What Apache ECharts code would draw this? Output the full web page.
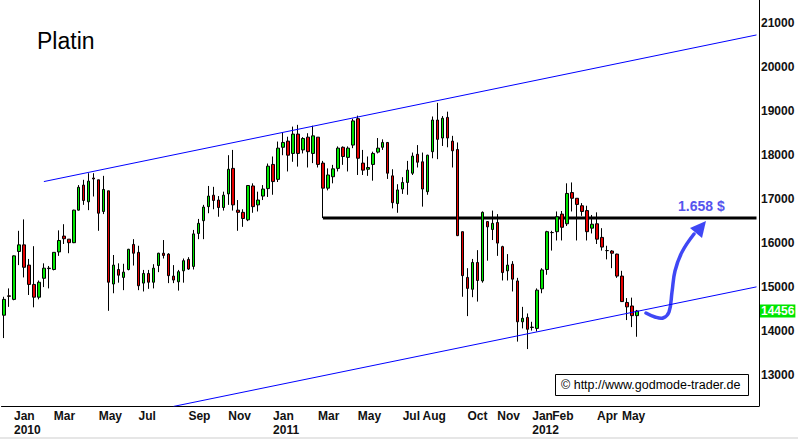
<!DOCTYPE html>
<html><head><meta charset="utf-8">
<script src="https://cdn.jsdelivr.net/npm/echarts@6/dist/echarts.min.js"></script>
<style>html,body{margin:0;padding:0;background:#fff}#c{width:798px;height:439px}</style>
</head><body><div id="c"></div>
<script>
// Weekly candles, Platinum
const opens=[14360,14800,14720,15810,15960,15500,15060,14770,15200,15420,15400,15800,16160,16090,16010,16750,17320,16940,17480,17440,16720,17190,15070,15400,15220,15400,15970,15790,15090,15310,15110,15490,15770,15750,15250,15120,15370,15630,15470,16220,16510,16830,17090,16980,16810,17120,17700,16750,16700,16530,17300,16870,17070,17240,17790,17450,18180,18320,18040,18480,18120,18410,18040,18410,17820,17250,17510,17700,18180,17950,18230,18830,17820,17680,17790,18070,18180,18290,17530,16900,17230,17380,17590,18020,17850,17170,18080,18800,18390,18860,18320,18130,16260,15220,14950,15560,15140,16490,16310,16470,15920,15370,15520,15140,14210,14310,14090,14060,14960,15400,16240,16260,16660,16440,17150,17020,16850,16740,16340,16440,16130,15830,15820,15750,15250,14650,14570,14350];
const highs=[14780,14970,15720,16280,16540,15640,15930,15150,15540,15480,15790,16290,16430,16090,16760,17320,17440,17590,17590,17440,17530,17190,15730,15540,15530,15870,16090,15940,15390,15390,15520,15780,16070,15770,15500,15390,15650,15680,16300,16550,16870,17300,17280,17070,17170,18000,18120,16980,16770,17320,17360,17170,17320,17810,17970,18310,18520,18420,18650,18690,18410,18500,18670,18410,17870,17700,17780,18200,18200,18200,18830,18900,18120,17970,18080,18390,18360,18300,17680,17340,17500,17870,18060,18230,18060,18010,18880,19190,18890,18990,18440,18290,16260,15430,15640,15840,16720,16490,16740,16660,15940,15750,15590,15210,14550,14400,14210,14970,15430,16280,16280,16720,16730,17360,17380,17020,16910,16850,16640,16700,16340,15940,15840,15760,15370,14750,14760,14480];
const lows=[13840,14550,14700,15500,15220,14820,14540,14720,15000,14970,15380,15710,15980,15770,16000,16740,16870,16750,17060,16280,16660,14460,14860,15100,14930,15380,15490,14930,14900,14960,14970,15340,15650,15090,15090,14920,15100,15390,15400,16090,16090,16680,16770,16600,16740,16870,16740,16280,16370,16500,16690,16720,16980,17050,17100,17390,18000,17630,17850,17740,18040,17720,17820,17720,16570,17200,17360,17630,17780,17630,18160,17550,17550,17530,17420,18040,18120,17460,16790,16690,17120,17100,17550,17720,16830,17100,17930,17910,18210,18180,17720,16160,14780,14340,14770,14670,15100,15600,16070,15710,15150,15150,14900,13760,14060,13590,14010,13990,14860,15280,15830,16060,16060,16390,16720,16060,16620,16060,16220,15980,15830,15630,15430,15210,14660,14250,14090,13870];
const closes=[14720,14790,15710,15960,15450,15060,14770,15110,15430,15430,15790,16060,16100,16010,16750,17270,16970,17410,17460,16680,17220,15110,15500,15270,15340,15860,15770,15030,15310,15110,15430,15770,15720,15260,15160,15350,15600,15410,16210,16450,16820,17070,16970,16810,17090,17680,16870,16700,16560,17310,16830,16980,17230,17750,17400,18160,18290,18000,18480,18040,18380,18080,18440,17790,17250,17550,17690,18160,17970,18160,18780,17930,17660,17720,18040,18160,18290,17590,16920,17210,17380,17660,17980,17840,17230,18000,18800,18360,18840,18390,18100,16170,15260,14970,15560,15150,16700,16370,16450,16000,15330,15500,15180,14210,14290,14040,14080,14930,15390,16260,16240,16600,16360,17130,17020,16880,16720,16260,16430,16090,15910,15830,15770,15250,14670,14550,14350,14456];

// trend channel (category index, price) and resistance level
const upperTrend=[[8,17400],[151.4,20735]];
const lowerTrend=[[34,12285],[151.4,15005]];
const resistance=[[64,16570],[151.4,16570]];
const lastPrice=14456;
const targetText='1.658 $';

// axis ticks
const yTicks=[13000,14000,15000,16000,17000,18000,19000,20000,21000];
const xTickIndex=[2,10,19,27,37,45,54,63,71,80,84,93,99,106,110,119,124];
const xTickText=['Jan\n2010','Mar','May','Jul','Sep','Nov','Jan\n2011','Mar','May','Jul','Aug','Oct','Nov','Jan\n2012','Feb','Apr','May'];

const SLOTS=152;
const categories=[];
{const d0=new Date(Date.UTC(2009,11,18));for(let i=0;i<SLOTS;i++){const d=new Date(d0.getTime()+i*7*864e5);categories.push(d.toISOString().slice(0,10));}}
const candles=opens.map((o,i)=>[o,closes[i],lows[i],highs[i]]);

const FONT='"Liberation Sans", Arial, sans-serif';
const chart=echarts.init(document.getElementById('c'),null,{renderer:'svg'});
chart.setOption({
  animation:false,
  backgroundColor:'#fff',
  title:{text:'Platin',left:37,top:29,padding:0,textStyle:{fontFamily:FONT,fontSize:23,fontWeight:'normal',color:'#000'}},
  grid:{left:1.5,right:39,top:0,bottom:33,containLabel:false},
  xAxis:{type:'category',data:categories,boundaryGap:true,
    axisLine:{show:true,lineStyle:{color:'#000',width:1}},axisTick:{show:false},splitLine:{show:false},
    axisLabel:{interval:(i)=>xTickIndex.includes(i),formatter:(v,i)=>{const k=xTickIndex.indexOf(i);return k<0?'':xTickText[k];},
      align:'left',margin:3,lineHeight:14,fontFamily:FONT,fontSize:12,fontWeight:'bold',color:'#111'}},
  yAxis:{type:'value',position:'right',min:12295,max:21530,scale:true,
    axisLine:{show:true,lineStyle:{color:'#000',width:1}},axisTick:{show:false},splitLine:{show:false},
    axisLabel:{customValues:yTicks,formatter:(v)=>String(v),margin:2,fontFamily:FONT,fontSize:12,fontWeight:'bold',color:'#111'}},
  series:[
    {type:'candlestick',data:candles,barWidth:3,
      itemStyle:{color:'#00e600',color0:'#e60000',borderColor:'#000',borderColor0:'#000',borderColorDoji:'#000',borderWidth:1},
      markLine:{silent:true,symbol:'none',data:[{yAxis:lastPrice}],lineStyle:{color:'rgba(0,0,0,0)',width:0},
        label:{show:true,position:'end',distance:1,formatter:String(lastPrice),backgroundColor:'#00e600',color:'#fff',
          fontFamily:FONT,fontSize:12,fontWeight:'bold',padding:[1,1,0,1],lineHeight:12}}},
    {type:'line',data:upperTrend,symbol:'none',lineStyle:{color:'#0000ff',width:1},clip:true,z:3},
    {type:'line',data:lowerTrend,symbol:'none',lineStyle:{color:'#0000ff',width:1},clip:true,z:3},
    {type:'line',data:resistance,symbol:'none',lineStyle:{color:'#000',width:3},clip:true,z:1}
  ],
  graphic:[
    {type:'text',left:678,top:199,style:{text:targetText,fontFamily:FONT,fontSize:14,fontWeight:'bold',fill:'#5555ee'}},
    {type:'polyline',shape:{points:[[646,313],[655,317],[663,318],[669,312],[672,292],[675,271],[682,252],[694,234]],smooth:0.4},
      style:{stroke:'#3f47f5',lineWidth:3.5,fill:null,lineCap:'round'}},
    {type:'polygon',shape:{points:[[706,221],[690,228],[702,238]]},style:{fill:'#3f47f5'}},
    {type:'rect',shape:{x:555.5,y:374.5,width:193,height:21},style:{fill:'#fff',stroke:'#000',lineWidth:1},z:10},
    {type:'text',left:561,top:378,z:11,style:{text:'\u00A9 http://www.godmode-trader.de',fontFamily:FONT,fontSize:12.5,fill:'#000'}},
    {type:'rect',shape:{x:0,y:437,width:798,height:2},style:{fill:'#e6e6e6'}}
  ]
});
</script></body></html>
